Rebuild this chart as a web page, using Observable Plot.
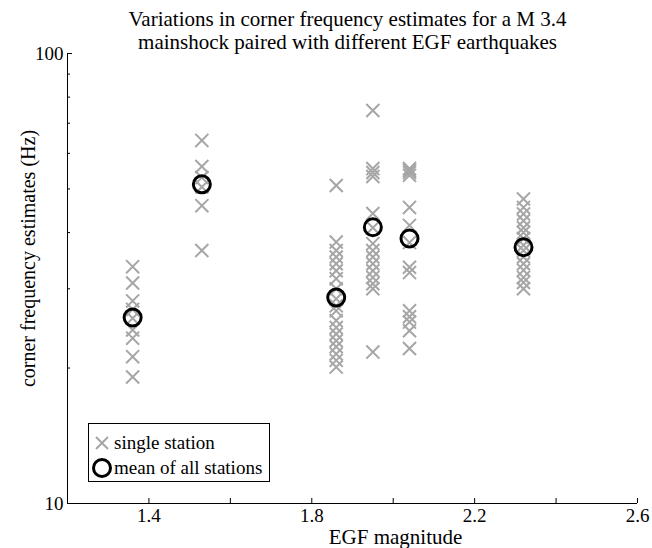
<!DOCTYPE html>
<html><head><meta charset="utf-8">
<script src="https://cdn.jsdelivr.net/npm/d3@7"></script>
<script src="https://cdn.jsdelivr.net/npm/@observablehq/plot@0.6"></script>
<style>
body{margin:0;background:#fff;}
#wrap{position:relative;width:652px;height:548px;font-family:"Liberation Serif",serif;}
#legend{position:absolute;left:88px;top:423px;width:182px;height:59px;border:1px solid #000;background:#fff;box-sizing:border-box;font-size:19px;}
#legend .row{position:absolute;left:0;height:25px;display:flex;align-items:center;white-space:nowrap;}
#legend svg{margin-left:6px;margin-right:5px;}
</style></head><body><div id="wrap"></div>
<script>
const egfMagnitudes = [1.36, 1.53, 1.86, 1.95, 2.04, 2.32];
const fcEgf136 = [33.6, 30.9, 28.2, 27.0, 25.8, 24.3, 23.3, 21.2, 19.1];
const fcEgf153 = [64.1, 56.1, 53.0, 50.5, 45.9, 36.5];
const fcEgf186 = [50.9, 38.1, 36.5, 35.3, 34.1, 32.9, 31.6, 30.0, 28.5, 27.5, 26.8, 25.5, 24.6, 23.8, 23.0, 22.3, 21.5, 20.8, 20.1];
const fcEgf195 = [74.7, 55.5, 54.4, 53.3, 44.1, 41.0, 37.8, 36.5, 35.3, 34.1, 32.9, 31.8, 30.8, 30.0, 21.7];
const fcEgf204 = [55.5, 55.0, 54.4, 53.6, 45.5, 41.5, 38.0, 33.5, 32.6, 26.8, 26.0, 25.3, 24.2, 22.1];
const fcEgf232 = [47.5, 45.5, 44.0, 42.5, 41.0, 40.0, 38.8, 37.5, 36.5, 35.3, 34.1, 33.0, 31.8, 31.0, 30.0];
const meanFc = [25.9, 51.2, 28.7, 41.1, 38.8, 37.1];
const xTicks = [1.4, 1.6, 1.8, 2.0, 2.2, 2.4, 2.6];
const xTickLabels = [1.4, 1.8, 2.2, 2.6];
const yMajorTicks = [10, 100];
const yMinorTicks = [20, 30, 40, 50, 60, 70, 80, 90];
const titleText = "Variations in corner frequency estimates for a M 3.4\nmainshock paired with different EGF earthquakes";
const xLabel = "EGF magnitude";
const yLabel = "corner frequency estimates (Hz)";
const legendLabels = ["single station", "mean of all stations"];

const perStation = [fcEgf136, fcEgf153, fcEgf186, fcEgf195, fcEgf204, fcEgf232];
const stations = perStation.flatMap((vals, i) => vals.map(v => ({mag: egfMagnitudes[i], fc: v})));
const means = egfMagnitudes.map((m, i) => ({mag: m, fc: meanFc[i]}));

const chart = Plot.plot({
  width: 652, height: 548,
  marginLeft: 67, marginRight: 15, marginTop: 53, marginBottom: 45,
  style: {fontFamily: "Liberation Serif", fontSize: "19px", color: "#000", background: "#fff", overflow: "visible"},
  x: {domain: [1.2, 2.6]},
  y: {type: "log", domain: [10, 100]},
  marks: [
    Plot.ruleX([1.2], {stroke: "#000", strokeWidth: 1}),
    Plot.ruleY([10], {stroke: "#000", strokeWidth: 1}),
    Plot.axisX({ticks: xTicks, tickSize: -5, text: null, label: null}),
    Plot.axisX({ticks: xTickLabels, tickSize: 0, tickPadding: 5, tickFormat: d3.format(".1f"), label: null}),
    Plot.axisY({ticks: yMajorTicks, tickSize: -5, text: null, label: null}),
    Plot.axisY({ticks: yMinorTicks, tickSize: -3, text: null, label: null}),
    Plot.axisY({ticks: yMajorTicks, tickSize: 0, tickPadding: 4, tickFormat: d => String(d), label: null}),
    Plot.dot(stations, {x: "mag", y: "fc", symbol: "times", r: 6, stroke: "#a6a6a6", strokeWidth: 2}),
    Plot.dot(means, {x: "mag", y: "fc", r: 8.5, stroke: "#000", strokeWidth: 3, fill: "none"}),
    Plot.text([titleText], {frameAnchor: "top", lineAnchor: "middle", textAnchor: "middle", dx: -5, dy: -23, fontSize: 21, lineHeight: 1.1}),
    Plot.text([xLabel], {frameAnchor: "bottom", lineAnchor: "middle", textAnchor: "middle", dx: 43, dy: 34, fontSize: 21}),
    Plot.text([yLabel], {frameAnchor: "left", lineAnchor: "middle", textAnchor: "middle", rotate: -90, dx: -39, dy: -20, fontSize: 20})
  ]
});
const wrap = document.getElementById("wrap");
wrap.appendChild(chart);

const legend = document.createElement("div");
legend.id = "legend";
legend.innerHTML = `
<div class="row" style="top:6px"><svg width="14" height="14" viewBox="-7 -7 14 14"><path d="M-6,-6L6,6M-6,6L6,-6" stroke="#a6a6a6" stroke-width="2"/></svg><span>${legendLabels[0]}</span></div>
<div class="row" style="top:31px"><svg width="20" height="20" viewBox="-10 -10 20 20" style="margin-left:3px;margin-right:2px"><circle r="8.5" fill="none" stroke="#000" stroke-width="3"/></svg><span>${legendLabels[1]}</span></div>`;
wrap.appendChild(legend);
</script>
</body></html>
